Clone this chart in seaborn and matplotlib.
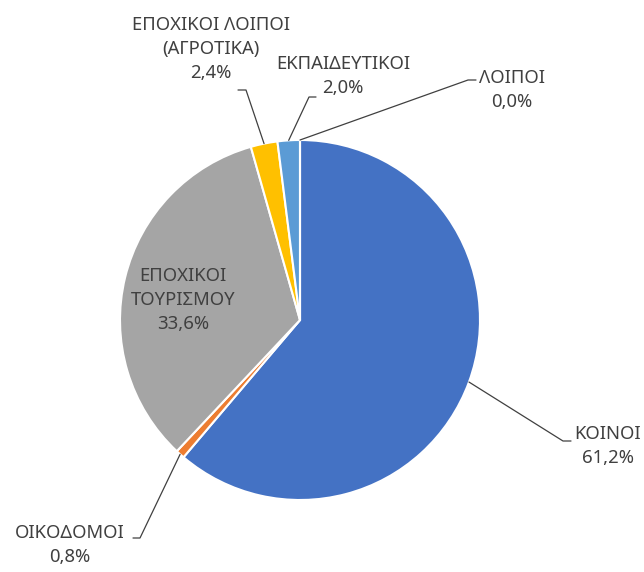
import numpy as np
import matplotlib.pyplot as plt
import seaborn as sns

# --------------------------------------------
# DATA
# --------------------------------------------
categories = ["ΚΟΙΝΟΙ", "ΟΙΚΟΔΟΜΟΙ", "ΕΠΟΧΙΚΟΙ\nΤΟΥΡΙΣΜΟΥ",
              "ΕΠΟΧΙΚΟΙ ΛΟΙΠΟΙ\n(ΑΓΡΟΤΙΚΑ)", "ΕΚΠΑΙΔΕΥΤΙΚΟΙ", "ΛΟΙΠΟΙ"]
shares = [61.2, 0.8, 33.6, 2.4, 2.0, 0.0]

# --------------------------------------------
# STYLE / LAYOUT
# --------------------------------------------
sns.set_style("white")
plt.rcParams['font.family'] = ['Noto Sans', 'DejaVu Sans']
palette = sns.color_palette(["#4472C4", "#ED7D31", "#A5A5A5",
                             "#FFC000", "#5B9BD5", "#70AD47"])
text_color = "#404040"

W, H = 644, 572
cx, cy, R = 300, 320, 180   # pie centre / radius in picture pixels


def Y(y):
    return H - y


# label block centre, elbow, tail of leader (picture pixels); None = inside
label_pos = [(608, 446), (70, 545), (183, 300), (211, 49), (343, 76), (512, 90)]
elbows = [((563, 441), (571, 441)),
          ((140, 538), (133, 538)),
          None,
          ((246, 90), (238, 90)),
          ((309, 97), (316, 97)),
          ((468, 80), (476, 80))]

fig = plt.figure(figsize=(W / 100, H / 100), dpi=100)
ax = fig.add_axes([0, 0, 1, 1])

wedges, _ = ax.pie(shares, colors=palette, startangle=90, counterclock=False,
                   center=(cx, Y(cy)), radius=R, frame=True,
                   wedgeprops=dict(edgecolor="white", linewidth=1.5))
ax.set_xlim(0, W)
ax.set_ylim(0, H)
ax.set_aspect("equal")
ax.axis("off")

for i, w in enumerate(wedges):
    pct = f"{shares[i]:.1f}".replace(".", ",") + "%"
    tx, ty = label_pos[i]
    ax.text(tx, Y(ty), categories[i] + "\n" + pct, ha="center", va="center",
            multialignment="center", fontsize=13.3, color=text_color,
            linespacing=1.4)
    if elbows[i] is None:
        continue
    mid = np.deg2rad((w.theta1 + w.theta2) / 2)
    ax_, ay_ = cx + R * np.cos(mid), Y(cy) + R * np.sin(mid)
    (ex, ey), (sx, sy) = elbows[i]
    ax.plot([ax_, ex, sx], [ay_, Y(ey), Y(sy)], color=text_color, lw=0.9)

fig.savefig("out.png", dpi=100)
